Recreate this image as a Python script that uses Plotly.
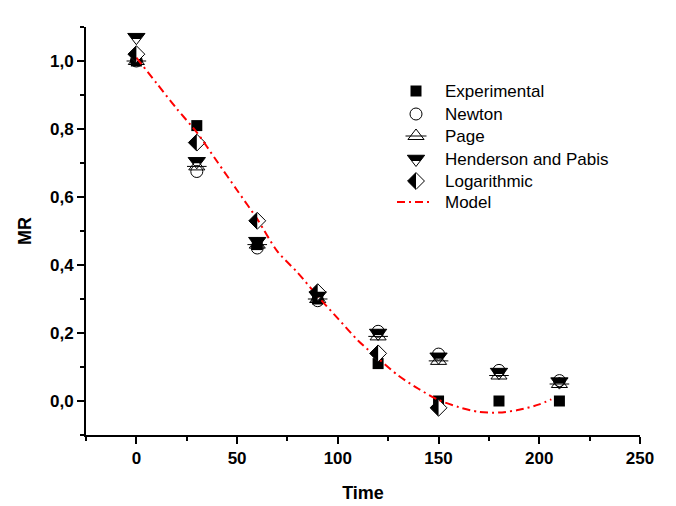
import plotly.graph_objects as go

# ---------------- data ----------------
time = [0, 30, 60, 90, 120, 150, 180, 210]
experimental = [1.00, 0.81, 0.46, 0.30, 0.11, 0.00, 0.00, 0.00]
newton = [1.00, 0.675, 0.45, 0.295, 0.205, 0.138, 0.09, 0.06]
page = [1.00, 0.69, 0.46, 0.30, 0.19, 0.118, 0.075, 0.05]
henderson = [1.07, 0.705, 0.47, 0.31, 0.20, 0.13, 0.085, 0.057]
log_time = [0, 30, 60, 90, 120, 150]
logarithmic = [1.02, 0.76, 0.53, 0.32, 0.14, -0.02]
model_time = [0, 10, 20, 30, 40, 50, 60, 70, 80, 90, 100, 110, 120, 130,
              140, 150, 160, 170, 180, 190, 200, 206]
model = [1.01, 0.935, 0.86, 0.79, 0.705, 0.62, 0.535, 0.44, 0.378, 0.308,
         0.243, 0.178, 0.125, 0.075, 0.036, 0.003, -0.018, -0.032, -0.034,
         -0.026, -0.01, 0.005]

series_names = ["Experimental", "Newton", "Page", "Henderson and Pabis",
                "Logarithmic", "Model"]
title_text = "Mint m = 0,018 kg/s"

FONT = "Liberation Sans, Arial, sans-serif"
W, H = 676, 506
ML, MR_, MT, MB = 86, 36, 27, 71

fig = go.Figure()

# ---------------- data traces ----------------
fig.add_trace(go.Scatter(x=time, y=experimental, mode="markers",
                         marker=dict(symbol="square", size=11, color="black"),
                         showlegend=False))
fig.add_trace(go.Scatter(x=time, y=newton, mode="markers",
                         marker=dict(symbol="circle-open", size=12, color="black",
                                     line=dict(width=1, color="black")),
                         showlegend=False))
fig.add_trace(go.Scatter(x=time, y=page, mode="markers",
                         marker=dict(symbol="triangle-up-open", size=14, color="black",
                                     line=dict(width=1, color="black")),
                         showlegend=False))
fig.add_trace(go.Scatter(x=time, y=page, mode="markers",
                         marker=dict(symbol="line-ew-open", size=14, color="black",
                                     line=dict(width=1, color="black")),
                         showlegend=False, hoverinfo="skip"))
fig.add_trace(go.Scatter(x=time, y=henderson, mode="markers",
                         marker=dict(symbol="triangle-down-open", size=15, color="black",
                                     line=dict(width=1, color="black")),
                         showlegend=False))
fig.add_trace(go.Scatter(x=log_time, y=logarithmic, mode="markers",
                         marker=dict(symbol="diamond", size=13, color="white",
                                     line=dict(width=1, color="black")),
                         showlegend=False))
fig.add_trace(go.Scatter(x=model_time, y=model, mode="lines",
                         line=dict(color="red", width=2, dash="8px,4px,2px,4px",
                                   shape="spline", smoothing=0.8),
                         showlegend=False))

# half-filled symbols as pixel-sized shapes anchored at data points
r_t = 7.5
rt = r_t * 2 / 3 ** 0.5
tri_half = (f"M{-rt:.2f},{r_t/2:.2f} L{rt:.2f},{r_t/2:.2f} "
            f"L{rt/2:.2f},{-r_t/4:.2f} L{-rt/2:.2f},{-r_t/4:.2f} Z")
rd = 6.5 * 1.3
dia_half = f"M0,{rd:.2f} L{-rd:.2f},0 L0,{-rd:.2f} Z"

shapes = []
for xv, yv in zip(time, henderson):
    shapes.append(dict(type="path", xref="x", yref="y", xsizemode="pixel",
                       ysizemode="pixel", xanchor=xv, yanchor=yv, path=tri_half,
                       fillcolor="black", line=dict(width=0), layer="above"))
for xv, yv in zip(log_time, logarithmic):
    shapes.append(dict(type="path", xref="x", yref="y", xsizemode="pixel",
                       ysizemode="pixel", xanchor=xv, yanchor=yv, path=dia_half,
                       fillcolor="black", line=dict(width=0), layer="above"))

# ---------------- manual legend on pixel overlay axes ----------------
leg_x = 416
leg_tx = 443
leg_y = [91, 114, 136, 159, 181, 202]

fig.add_trace(go.Scatter(x=[leg_x], y=[leg_y[0]], xaxis="x2", yaxis="y2", mode="markers",
                         marker=dict(symbol="square", size=11, color="black"),
                         showlegend=False, hoverinfo="skip"))
fig.add_trace(go.Scatter(x=[leg_x], y=[leg_y[1]], xaxis="x2", yaxis="y2", mode="markers",
                         marker=dict(symbol="circle-open", size=12, color="black",
                                     line=dict(width=1, color="black")),
                         showlegend=False, hoverinfo="skip"))
fig.add_trace(go.Scatter(x=[leg_x], y=[leg_y[2]], xaxis="x2", yaxis="y2", mode="markers",
                         marker=dict(symbol="triangle-up-open", size=14, color="black",
                                     line=dict(width=1, color="black")),
                         showlegend=False, hoverinfo="skip"))
fig.add_trace(go.Scatter(x=[leg_x], y=[leg_y[2]], xaxis="x2", yaxis="y2", mode="markers",
                         marker=dict(symbol="line-ew-open", size=15, color="black",
                                     line=dict(width=1, color="black")),
                         showlegend=False, hoverinfo="skip"))
fig.add_trace(go.Scatter(x=[leg_x], y=[leg_y[3]], xaxis="x2", yaxis="y2", mode="markers",
                         marker=dict(symbol="triangle-down-open", size=15, color="black",
                                     line=dict(width=1, color="black")),
                         showlegend=False, hoverinfo="skip"))
fig.add_trace(go.Scatter(x=[leg_x], y=[leg_y[4]], xaxis="x2", yaxis="y2", mode="markers",
                         marker=dict(symbol="diamond", size=13, color="white",
                                     line=dict(width=1, color="black")),
                         showlegend=False, hoverinfo="skip"))
fig.add_trace(go.Scatter(x=[397, 431], y=[leg_y[5], leg_y[5]], xaxis="x2", yaxis="y2",
                         mode="lines",
                         line=dict(color="red", width=2, dash="8px,4px,2px,4px"),
                         showlegend=False, hoverinfo="skip"))
shapes.append(dict(type="path", xref="x2", yref="y2", xsizemode="pixel",
                   ysizemode="pixel", xanchor=leg_x, yanchor=leg_y[3], path=tri_half,
                   fillcolor="black", line=dict(width=0), layer="above"))
shapes.append(dict(type="path", xref="x2", yref="y2", xsizemode="pixel",
                   ysizemode="pixel", xanchor=leg_x, yanchor=leg_y[4], path=dia_half,
                   fillcolor="black", line=dict(width=0), layer="above"))

annotations = []
for name, yy in zip(series_names, leg_y):
    annotations.append(dict(x=leg_tx, y=yy, xref="x2", yref="y2", text=name,
                            showarrow=False, xanchor="left", yanchor="middle",
                            font=dict(family=FONT, size=17, color="black")))
annotations.append(dict(x=276, y=18, xref="x2", yref="y2", text=title_text,
                        showarrow=False, xanchor="center", yanchor="middle",
                        font=dict(family=FONT, size=16, color="black")))

axis_common = dict(showline=True, linecolor="black", linewidth=2, showgrid=False,
                   zeroline=False, ticks="outside", ticklen=7, tickwidth=2,
                   tickcolor="black", automargin=False,
                   tickfont=dict(family=FONT, size=17, color="black", weight="bold"))

fig.update_layout(
    width=W, height=H,
    margin=dict(l=ML, r=MR_, t=MT, b=MB, pad=0),
    paper_bgcolor="white", plot_bgcolor="white",
    separators=",.",
    showlegend=False,
    shapes=shapes,
    annotations=annotations,
    xaxis=dict(range=[-25, 250], tick0=0, dtick=50,
               minor=dict(dtick=25, ticks="outside", ticklen=4, tickwidth=2,
                          tickcolor="black"),
               title=dict(text="Time", standoff=19,
                          font=dict(family=FONT, size=18, color="black", weight="bold")),
               **axis_common),
    yaxis=dict(range=[-0.1, 1.1], tick0=0, dtick=0.2, tickformat=".1f",
               minor=dict(dtick=0.1, ticks="outside", ticklen=4, tickwidth=2,
                          tickcolor="black"),
               title=dict(text="MR", standoff=14,
                          font=dict(family=FONT, size=18, color="black", weight="bold")),
               **axis_common),
    xaxis2=dict(overlaying="x", range=[ML, W - MR_], visible=False, fixedrange=True),
    yaxis2=dict(overlaying="y", range=[H - MB, MT], visible=False, fixedrange=True),
)

fig.write_html("out.html")
